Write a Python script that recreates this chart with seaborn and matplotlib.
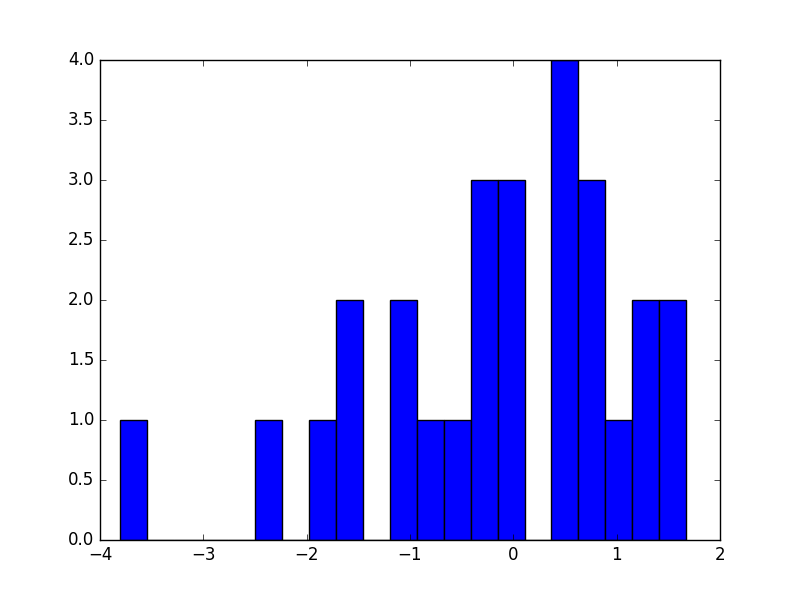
import matplotlib
matplotlib.use('Agg')
import matplotlib.pyplot as plt
import numpy as np
import pandas as pd
import seaborn as sns

# histogram: 21 equal bins
bin_start = -3.806
bin_stop = 1.674
counts = [1, 0, 0, 0, 0, 1, 0, 1, 2, 0, 2, 1, 1, 3, 3, 0, 4, 3, 1, 2, 2]

edges = np.linspace(bin_start, bin_stop, len(counts) + 1)
df = pd.DataFrame({'value': (edges[:-1] + edges[1:]) / 2, 'count': counts})

plt.style.use('classic')
fig, ax = plt.subplots(figsize=(8, 6), dpi=100)
sns.histplot(data=df, x='value', weights='count', bins=len(counts),
             binrange=(bin_start, bin_stop), color='b',
             edgecolor='k', linewidth=1, alpha=1, ax=ax)
ax.set_xlim(-4, 2)
ax.set_ylim(0, 4)
ax.set_ylabel('')
ax.set_xlabel('')
fig.patch.set_facecolor('white')
plt.savefig('out.png', dpi=100, facecolor='white')
